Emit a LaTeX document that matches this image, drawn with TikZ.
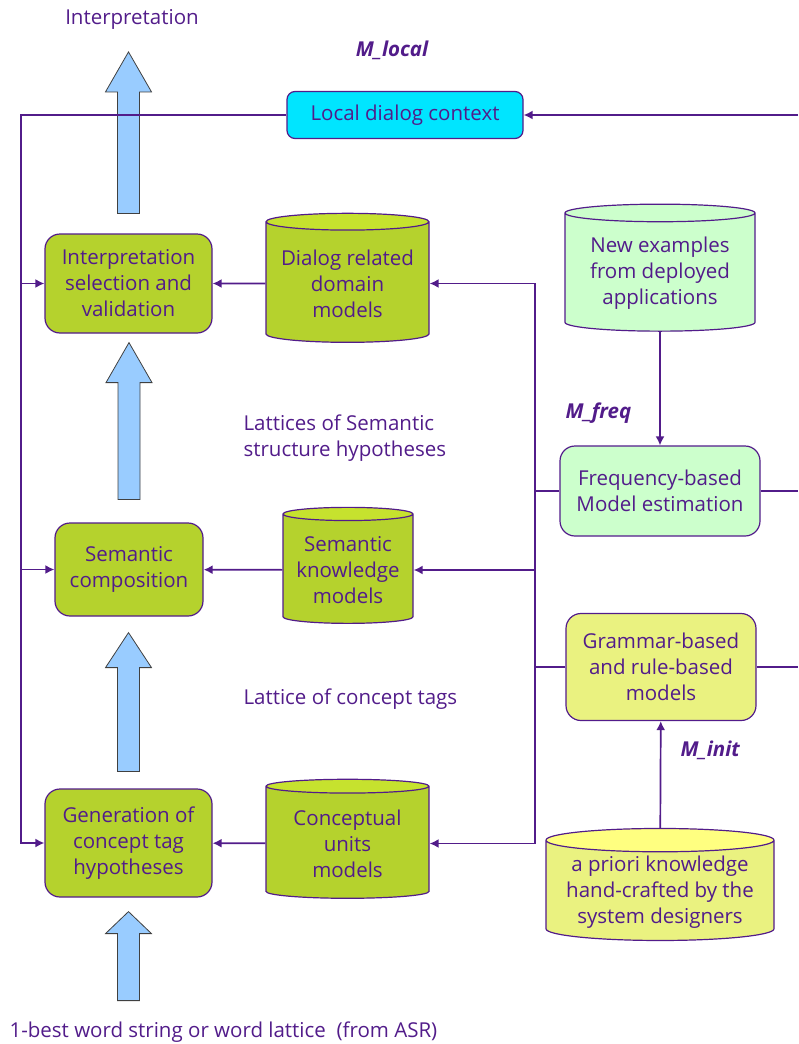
\documentclass[tikz,border=0pt]{standalone}
\usepackage{fontspec}
\setmainfont{Open Sans}
\usepackage{tikz}
\usetikzlibrary{shapes,arrows.meta,positioning,calc}
\usepackage{xcolor}
\definecolor{ink}{RGB}{82,28,138}
\definecolor{olive}{RGB}{181,210,45}
\definecolor{olivetop}{RGB}{198,226,46}
\definecolor{cyanbox}{RGB}{0,229,255}
\definecolor{mint}{RGB}{204,255,204}
\definecolor{lemon}{RGB}{234,242,128}
\definecolor{lemontop}{RGB}{255,255,128}
\definecolor{sky}{RGB}{153,204,255}
\newcommand{\boxfont}{\fontsize{20.5}{26}\selectfont}
\tikzstyle{procbox} = [rectangle, rounded corners=15pt, draw=ink, line width=1.2pt, text=ink, align=center, font=\boxfont, fill=olive]
\tikzstyle{store} = [cylinder, shape border rotate=90, aspect=0.12, draw=ink, line width=1.2pt, text=ink, align=center, font=\boxfont, cylinder uses custom fill, cylinder body fill=olive, cylinder end fill=olivetop]
\tikzstyle{plaintext} = [text=ink, font=\boxfont, align=left]
\tikzstyle{model} = [text=ink, font=\boxfont\bfseries\itshape]
\tikzstyle{arrow} = [draw=ink, line width=1.7pt, ->, >={Latex[length=9pt,width=9pt]}]
\tikzstyle{link} = [draw=ink, line width=1.7pt]
\tikzstyle{bigarrow} = [fill=sky, draw=black!75, line width=0.8pt]
% block arrow pointing up: start, tip, head length
\newcommand{\blockup}[3]{\path[bigarrow] let \p1=#1, \p2=#2 in (\x1-11pt,\y1) -- (\x1-11pt,\y2-#3) -- (\x1-23pt,\y2-#3) -- (\x1,\y2) -- (\x1+23pt,\y2-#3) -- (\x1+11pt,\y2-#3) -- (\x1+11pt,\y1) -- cycle;}

\begin{document}
\begin{tikzpicture}[x=1pt, y=-1pt]
    \useasboundingbox (0,0) rectangle (798,1044);
    % Nodes
    \node (out) [plaintext] at (132,19) {Interpretation};
    \node (mlocal) [model] at (392,50) {M\_local};
    \node (ctx) [procbox, fill=cyanbox, rounded corners=8pt, minimum width=236pt, minimum height=47pt] at (405,115) {Local dialog context};
    \node (sel) [procbox, minimum width=167pt, minimum height=99pt] at (128.5,283.5) {Interpretation\\selection and\\validation};
    \node (dom) [store, minimum width=163pt, minimum height=129pt] at (347.5,283.5) {Dialog related\\domain\\models};
    \node (lat1) [plaintext, anchor=west] at (240,438) {Lattices of Semantic\\structure hypotheses};
    \node (comp) [procbox, minimum width=148pt, minimum height=93pt] at (129,569.5) {Semantic\\composition};
    \node (sem) [store, minimum width=130pt, minimum height=116pt] at (348,570) {Semantic\\knowledge\\models};
    \node (lat2) [plaintext, anchor=west] at (240,699) {Lattice of concept tags};
    \node (gen) [procbox, minimum width=167pt, minimum height=108pt] at (128.5,843) {Generation of\\concept tag\\hypotheses};
    \node (con) [store, minimum width=163pt, minimum height=119pt] at (347.5,843.5) {Conceptual\\units\\models};
    \node (asr) [plaintext, anchor=west] at (6,1032) {1-best word string or word lattice~~(from ASR)};
    \node (newex) [store, cylinder body fill=mint, cylinder end fill=mint, minimum width=190pt, minimum height=127pt] at (660,273.5) {New examples\\from deployed\\applications};
    \node (mfreq) [model, anchor=west] at (562,413) {M\_freq};
    \node (freq) [procbox, fill=mint, minimum width=200pt, minimum height=90pt] at (660,491) {Frequency-based\\Model estimation};
    \node (gram) [procbox, fill=lemon, minimum width=190pt, minimum height=107pt] at (661,667) {Grammar-based\\and rule-based\\models};
    \node (minit) [model, anchor=west] at (677,750) {M\_init};
    \node (apriori) [store, cylinder body fill=lemon, cylinder end fill=lemontop, minimum width=228pt, minimum height=112pt] at (660,892) {a priori knowledge\\hand-crafted by the\\system designers};
    \coordinate (lbus) at (21,0);
    \coordinate (rbus) at (535,0);
    \coordinate (edge) at (798,0);

    % Block arrows
    \blockup{($(sel.north)+(0,-20)$)}{($(ctx.north)+(0,-39)$)}{40pt}
    \blockup{($(comp.north)+(0,-23)$)}{($(sel.south)+(0,9)$)}{40pt}
    \blockup{($(gen.north)+(0,-17)$)}{($(comp.south)+(0,16)$)}{35pt}
    \blockup{($(gen.south)+(0,103)$)}{($(gen.south)+(0,14)$)}{22pt}

    % Arrows
    \draw [arrow] (ctx.west) -- (ctx.west -| lbus) |- (gen.west);
    \draw [arrow] (sel.west -| lbus) -- (sel.west);
    \draw [arrow] (comp.west -| lbus) -- (comp.west);
    \draw [arrow] (ctx.east -| edge) -- (ctx.east);
    \draw [arrow] (dom) -- (sel);
    \draw [arrow] (sem) -- (comp);
    \draw [arrow] (con) -- (gen);
    \draw [arrow] (dom.east -| rbus) -- (dom.east);
    \draw [arrow] (dom.east -| rbus) |- (con.east);
    \draw [arrow] (sem.east -| rbus) -- (sem.east);
    \draw [link] (freq.west) -- (freq.west -| rbus);
    \draw [link] (gram.west) -- (gram.west -| rbus);
    \draw [link] (freq.east) -- (freq.east -| edge);
    \draw [link] (gram.east) -- (gram.east -| edge);
    \draw [arrow] (newex) -- (freq);
    \draw [arrow] (apriori) -- (gram);
\end{tikzpicture}
\end{document}
